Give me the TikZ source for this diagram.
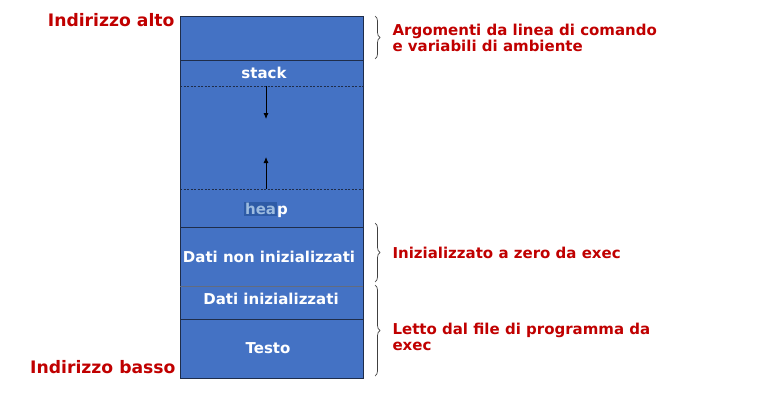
\documentclass[tikz,border=0pt]{standalone}
\usepackage{fontspec}
\setmainfont{DejaVu Sans}
\usepackage{tikz}
\usetikzlibrary{arrows.meta,decorations.pathreplacing}
\definecolor{segblue}{HTML}{4472C4}
\definecolor{segline}{HTML}{1F2D4A}
\definecolor{labred}{HTML}{C00000}
\definecolor{selblue}{HTML}{2E5BA6}
\definecolor{sellight}{HTML}{9DBCE0}
\tikzset{
  seg/.style={white,font=\bfseries\fontsize{15}{17}\selectfont},
  lab/.style={labred,font=\bfseries\fontsize{15}{16.5}\selectfont,align=left},
  addr/.style={labred,font=\bfseries\fontsize{17.2}{19}\selectfont},
  brc/.style={draw=black!75,line width=0.7pt,decorate,decoration={brace,amplitude=5pt}}
}
\begin{document}
\begin{tikzpicture}[x=1pt,y=-1pt]
\useasboundingbox (0,0) rectangle (759,401);
% memoria
\fill[segblue] (180,16) rectangle (363,378);
\draw[segline,line width=0.8pt] (180,16) rectangle (363,378);
\draw[segline,line width=0.8pt] (180,60) -- (363,60);
\draw[segline,dashed,dash pattern=on 2pt off 1.5pt,line width=0.6pt] (180,86) -- (363,86);
\draw[segline,dashed,dash pattern=on 2pt off 1.5pt,line width=0.6pt] (180,189) -- (363,189);
\draw[segline,line width=0.8pt] (180,227) -- (363,227);
\draw[segline!70,line width=0.8pt] (180,286) -- (363,286);
\draw[segline,line width=0.8pt] (180,319) -- (363,319);
\node[seg] (stack) at (264,73) {stack};
\node[seg,inner sep=0pt] (heap) at (266,210) {{\fboxsep=1pt\colorbox{selblue}{\color{sellight}hea}}p};
\node[seg] (nonini) at (269,257) {Dati non inizializzati};
\node[seg] (ini) at (271,299) {Dati inizializzati};
\node[seg] (testo) at (268,348) {Testo};
% frecce
\coordinate (sTop) at (266,86);
\coordinate (sEnd) at (266,119);
\coordinate (hBot) at (266,189);
\coordinate (hEnd) at (266,157);
\draw[-{Latex[length=6pt,width=5pt]},line width=0.8pt] (sTop) -- (sEnd);
\draw[-{Latex[length=6pt,width=5pt]},line width=0.8pt] (hBot) -- (hEnd);
% indirizzi
\node[addr,anchor=east] (alto) at (178,20) {Indirizzo alto};
\node[addr,anchor=east] (basso) at (179,367) {Indirizzo basso};
% graffe
\coordinate (b1a) at (375,16);
\coordinate (b1b) at (375,59);
\coordinate (b2a) at (375,223);
\coordinate (b2b) at (375,282);
\coordinate (b3a) at (375,285);
\coordinate (b3b) at (375,376);
\draw[brc] (b1a) -- (b1b);
\draw[brc] (b2a) -- (b2b);
\draw[brc] (b3a) -- (b3b);
\node[lab,anchor=west] (args) at (389,38) {Argomenti da linea di comando\\e variabili di ambiente};
\node[lab,anchor=west] (zero) at (389,253) {Inizializzato a zero da exec};
\node[lab,anchor=west] (letto) at (389,337) {Letto dal file di programma da\\exec};
\end{tikzpicture}
\end{document}
